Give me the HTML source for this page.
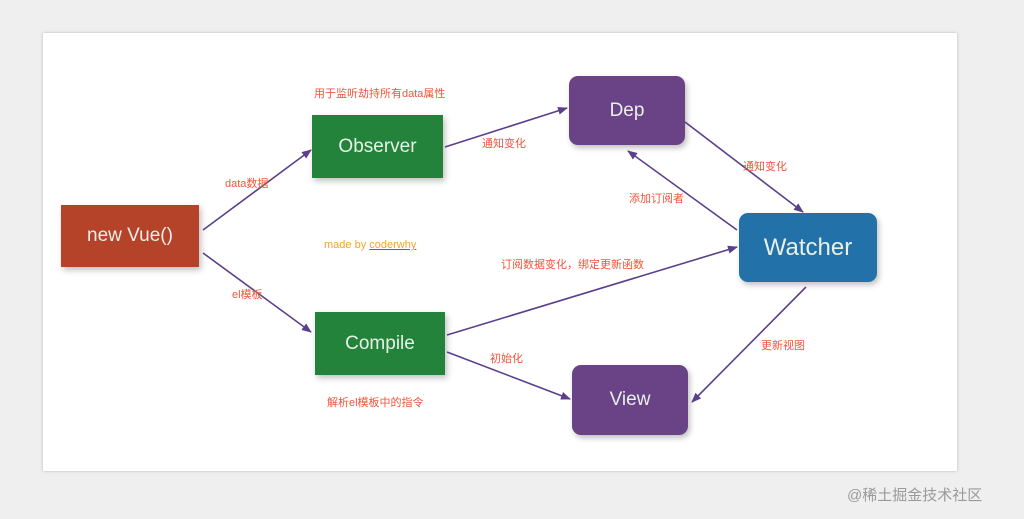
<!DOCTYPE html>
<html><head><meta charset="utf-8"><style>
body{margin:0;width:1024px;height:519px;background:#efefef;position:relative;overflow:hidden;font-family:"Liberation Sans","Noto Sans CJK SC",sans-serif}
.panel{position:absolute;left:43px;top:33px;width:914px;height:438px;background:#fff;box-shadow:0 0 3px #bbb}
.b{position:absolute;color:#e8f0e8;font-size:19px;display:flex;align-items:center;justify-content:center;box-shadow:2px 3px 6px rgba(0,0,0,.25)}
.l{position:absolute;color:#f0563a;font-size:11px;white-space:nowrap}
</style></head><body>
<div class="panel"></div>
<div class="b" style="left:61px;top:205px;width:138px;height:62px;background:#b5432a">new Vue()</div>
<div class="b" style="left:312px;top:115px;width:131px;height:63px;background:#23833a">Observer</div>
<div class="b" style="left:315px;top:312px;width:130px;height:63px;background:#23833a">Compile</div>
<div class="b" style="left:569px;top:76px;width:116px;height:69px;background:#6a4386;border-radius:9px">Dep</div>
<div class="b" style="left:572px;top:365px;width:116px;height:70px;background:#6a4386;border-radius:9px">View</div>
<div class="b" style="left:739px;top:213px;width:138px;height:69px;background:#2271a8;border-radius:9px;font-size:24px">Watcher</div>
<svg width="1024" height="519" style="position:absolute;left:0;top:0">
<defs><marker id="a" markerWidth="10" markerHeight="8" refX="9" refY="4" orient="auto" markerUnits="userSpaceOnUse"><path d="M0,0L10,4L0,8z" fill="#5b3f8c"/></marker></defs>
<g stroke="#5b3f8c" stroke-width="1.6" fill="none" marker-end="url(#a)">
<line x1="203" y1="230" x2="311" y2="150"/>
<line x1="203" y1="253" x2="311" y2="332"/>
<line x1="445" y1="147" x2="567" y2="108"/>
<line x1="685" y1="122" x2="803" y2="212"/>
<line x1="737" y1="230" x2="628" y2="151"/>
<line x1="447" y1="335" x2="737" y2="247"/>
<line x1="447" y1="352" x2="570" y2="399"/>
<line x1="806" y1="287" x2="692" y2="402"/>
</g></svg>
<div class="l" style="left:314px;top:85px">用于监听劫持所有data属性</div>
<div class="l" style="left:225px;top:175px">data数据</div>
<div class="l" style="left:482px;top:135px">通知变化</div>
<div class="l" style="left:743px;top:158px">通知变化</div>
<div class="l" style="left:629px;top:190px">添加订阅者</div>
<div class="l" style="left:324px;top:239px;color:#f5a623">made by <u style="text-decoration-color:#d33">coderwhy</u></div>
<div class="l" style="left:501px;top:256px">订阅数据变化，绑定更新函数</div>
<div class="l" style="left:232px;top:286px">el模板</div>
<div class="l" style="left:490px;top:350px">初始化</div>
<div class="l" style="left:761px;top:337px">更新视图</div>
<div class="l" style="left:327px;top:394px">解析el模板中的指令</div>
<div style="position:absolute;left:847px;top:484px;font-size:15px;color:#9a9a9a">@稀土掘金技术社区</div>
</body></html>
